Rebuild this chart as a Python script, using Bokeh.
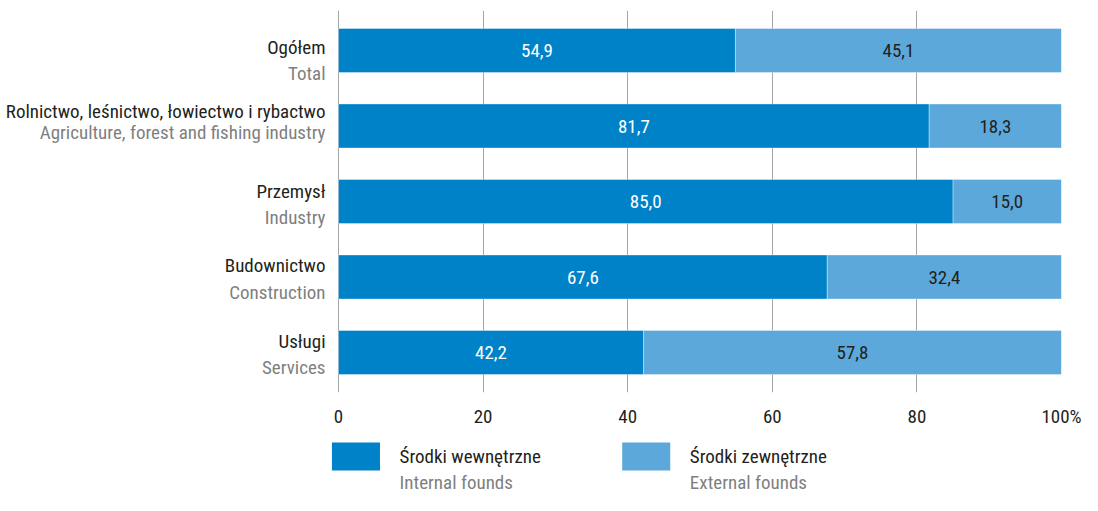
from bokeh.plotting import figure
from bokeh.models import Range1d, FixedTicker, ColumnDataSource
from bokeh.layouts import column
from bokeh.embed import file_html
from bokeh.resources import INLINE
from bokeh.core.properties import value

# ---------------- data ----------------
categories_pl = ["Ogółem", "Rolnictwo, leśnictwo, łowiectwo i rybactwo", "Przemysł",
                 "Budownictwo", "Usługi"]
categories_en = ["Total", "Agriculture, forest and fishing industry", "Industry",
                 "Construction", "Services"]
internal = [54.9, 81.7, 85.0, 67.6, 42.2]
external = [45.1, 18.3, 15.0, 32.4, 57.8]
series_pl = ["Środki wewnętrzne", "Środki zewnętrzne"]
series_en = ["Internal founds", "External founds"]
x_ticks = [0, 20, 40, 60, 80, 100]

# ---------------- style ----------------
FONT = "Roboto Condensed"
DARK = "#0082c8"
LIGHT = "#5ca8db"
TXT = "#231f20"
GRAY = "#7f7f7f"
GRID = "#a6a6a6"
FS = "19px"
nudge_pl = [-3, -15, -10, -12, -11]
nudge_en = [23, 6, 16, 15, 15]

W = 1082
X0, X1 = 338, 1061
H1, H2 = 430, 65
TOP, BOT = 10, 392
ROW = 75.5
px_per = (X1 - X0) / 100.0
x_start = -X0 / px_per
pad = (BOT - TOP - 4 * ROW) / 2.0 / ROW

n = len(categories_pl)
ys = list(range(n))
fmt = lambda v: f"{v:.1f}".replace(".", ",")

src = ColumnDataSource(dict(
    y=ys,
    internal=internal,
    ext_left=internal,
    ext_right=[a + b for a, b in zip(internal, external)],
    mid_int=[a / 2 for a in internal],
    mid_ext=[a + b / 2 for a, b in zip(internal, external)],
    lab_int=[fmt(v) for v in internal],
    lab_ext=[fmt(v) for v in external],
    pl=categories_pl,
    en=categories_en,
    zero=[0] * n,
    off_pl=nudge_pl,
    off_en=nudge_en,
))

p = figure(width=W, height=H1, x_range=Range1d(x_start, 100),
           y_range=Range1d(n - 1 + pad, -pad),
           output_backend="svg", toolbar_location=None, y_axis_location=None,
           min_border_left=0, min_border_right=W - X1, min_border_top=TOP,
           min_border_bottom=H1 - BOT)
p.outline_line_color = None

bh = 44 / ROW
p.hbar(y="y", left=0, right="internal", height=bh, source=src,
       fill_color=DARK, line_color="white", line_alpha=0.35, line_width=1)
p.hbar(y="y", left="ext_left", right="ext_right", height=bh, source=src,
       fill_color=LIGHT, line_color="white", line_alpha=0.35, line_width=1)

p.text(x="mid_int", y="y", text="lab_int", source=src, text_color="white",
       text_font=value(FONT), text_font_size=FS, text_align="center", text_baseline="middle")
p.text(x="mid_ext", y="y", text="lab_ext", source=src, text_color=TXT,
       text_font=value(FONT), text_font_size=FS, text_align="center", text_baseline="middle")

p.text(x="zero", y="y", text="pl", source=src, x_offset=-13, y_offset="off_pl",
       text_color=TXT, text_font=value(FONT), text_font_size=FS,
       text_align="right", text_baseline="middle")
p.text(x="zero", y="y", text="en", source=src, x_offset=-13, y_offset="off_en",
       text_color=GRAY, text_font=value(FONT), text_font_size=FS,
       text_align="right", text_baseline="middle")

ax = p.xaxis[0]
ax.ticker = FixedTicker(ticks=x_ticks)
ax.major_label_overrides = {100: "100%"}
ax.axis_line_color = None
ax.major_tick_line_color = None
ax.minor_tick_line_color = None
ax.major_label_standoff = 6
ax.major_label_text_font = FONT
ax.major_label_text_font_size = FS
ax.major_label_text_color = TXT

p.xgrid.ticker = FixedTicker(ticks=x_ticks)
p.xgrid.grid_line_color = GRID
p.xgrid.grid_line_width = 1
p.ygrid.visible = False

# ---------------- legend strip ----------------
q = figure(width=W, height=H2, x_range=Range1d(0, W), y_range=Range1d(H2, 0),
           output_backend="svg", toolbar_location=None,
           x_axis_location=None, y_axis_location=None,
           min_border=0, min_border_left=0, min_border_right=0,
           min_border_top=0, min_border_bottom=0)
q.outline_line_color = None
q.xgrid.visible = False
q.ygrid.visible = False

sw_left = [X0 + k * 296 for k in range(2)]
leg = ColumnDataSource(dict(
    left=sw_left,
    right=[v + 49 for v in sw_left],
    top=[12, 12],
    bottom=[40, 40],
    color=[DARK, LIGHT],
    tx=[v + 69 for v in sw_left],
    y1=[26, 26],
    y2=[52, 52],
    pl=series_pl,
    en=series_en,
))
q.quad(left="left", right="right", top="top", bottom="bottom", fill_color="color",
       line_color=None, source=leg)
q.text(x="tx", y="y1", text="pl", source=leg, text_color=TXT, text_font=value(FONT),
       text_font_size=FS, text_align="left", text_baseline="middle")
q.text(x="tx", y="y2", text="en", source=leg, text_color=GRAY, text_font=value(FONT),
       text_font_size=FS, text_align="left", text_baseline="middle")

layout = column(p, q, spacing=0)
open("out.html", "w").write(file_html(layout, INLINE))
